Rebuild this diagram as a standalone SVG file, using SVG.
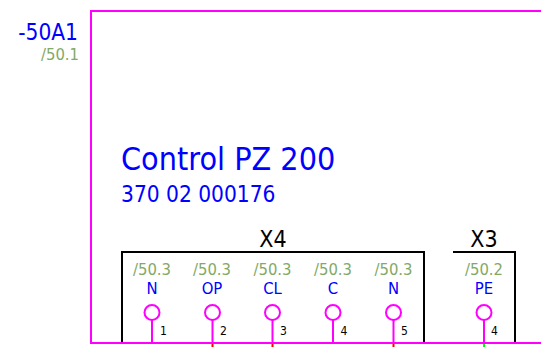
<svg xmlns="http://www.w3.org/2000/svg" width="541" height="347" viewBox="0 0 541 347">
<style>
text{font-family:"DejaVu Sans Condensed","Open Sans","DejaVu Sans",sans-serif}
.m{fill:none;stroke:#ff00ff;stroke-width:2}
.k{fill:none;stroke:#000;stroke-width:2}
.b{fill:#0000ff}
.g{fill:#82a966;font-size:16.500px;text-anchor:middle}
.p{fill:#0000ff;font-size:16.500px;text-anchor:middle}
.x{fill:#000;font-size:23px;text-anchor:middle}
.n{fill:#000;font-size:12px}
.c{fill:#fff;stroke:#ff00ff;stroke-width:2}
.s{stroke:#ff00ff;stroke-width:2}
.r{stroke:#ff0000;stroke-width:2}
.v{stroke:#00ff00;stroke-width:2}
</style>
<g id="frame"><path class="k" d="M453 252H515V343M122 343V252H424V343"/><path class="m" d="M541 11H91V343H541"/></g>
<g id="title">
<text x="78" y="40" class="b" font-size="22.500" text-anchor="end">-50A1</text>
<text x="79" y="60" class="g" style="text-anchor:end">/50.1</text>
<text x="121" y="170" class="b" font-size="32">Control PZ 200</text>
<text x="121" y="202" class="b" font-size="22.500">370 02 000176</text>
<text x="273" y="247" class="x">X4</text><text x="484" y="247" class="x">X3</text></g>
<g id="connectors">
<path class="s" d="M152 320V343M212.500 320V343M272.500 320V343M333 320V343M393.500 320V343M484 320V343"/>
<path class="r" d="M212.500 344V347M272.500 344V347M393.500 344V347"/>
<path class="v" d="M484 344V347"/>
</g>
<g id="p1"><text x="152" y="275" class="g">/50.3</text><text x="152" y="294" class="p">N</text><circle class="c" cx="152" cy="312.500" r="7.500"/><text x="160" y="335" class="n">1</text></g>
<g id="p2"><text x="212" y="275" class="g">/50.3</text><text x="212" y="294" class="p">OP</text><circle class="c" cx="212.500" cy="312.500" r="7.500"/><text x="220" y="335" class="n">2</text></g>
<g id="p3"><text x="272.500" y="275" class="g">/50.3</text><text x="272.500" y="294" class="p">CL</text><circle class="c" cx="272.500" cy="312.500" r="7.500"/><text x="280" y="335" class="n">3</text></g>
<g id="p4"><text x="333" y="275" class="g">/50.3</text><text x="333" y="294" class="p">C</text><circle class="c" cx="333" cy="312.500" r="7.500"/><text x="340.500" y="335" class="n">4</text></g>
<g id="p5"><text x="393.500" y="275" class="g">/50.3</text><text x="393.500" y="294" class="p">N</text><circle class="c" cx="393.500" cy="312.500" r="7.500"/><text x="401" y="335" class="n">5</text></g>
<g id="p6"><text x="484" y="275" class="g">/50.2</text><text x="484" y="294" class="p">PE</text><circle class="c" cx="484" cy="312.500" r="7.500"/><text x="491" y="335" class="n">4</text></g>
</svg>
